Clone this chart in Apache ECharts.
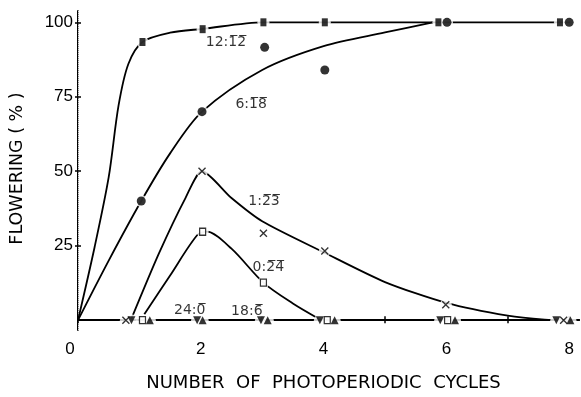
<!DOCTYPE html>
<html>
<head>
<meta charset="utf-8">
<script src="https://cdn.jsdelivr.net/npm/echarts@6/dist/echarts.min.js"></script>
<style>
html,body{margin:0;padding:0;background:#fff;}
#chart{width:581px;height:397px;}
</style>
</head>
<body>
<div id="chart"></div>
<script>
// ---- data (x = photoperiodic cycles, y = % flowering) ----
const xTickValues = [0, 1, 2, 3, 4, 5, 6, 7, 8];
const xLabelValues = [0, 2, 4, 6, 8];
const yTickValues = [25, 50, 75, 100];

// plotted markers
const sq1212X = [1.05, 2.03, 3.02, 4.02, 5.87, 7.85];
const sq1212Y = [93.4, 97.7, 100, 100, 100, 100];
const dot618X = [1.03, 2.02, 3.04, 4.02, 6.01, 8.0];
const dot618Y = [40, 70, 91.6, 84, 100, 100];
const x123X = [0.78, 2.02, 3.02, 4.02, 5.99, 7.91];
const x123Y = [0, 50, 29.2, 23.2, 5.2, 0];
const sq024X = [1.05, 2.03, 3.02, 4.06, 6.02];
const sq024Y = [0, 29.7, 12.6, 0, 0];
const down240X = [0.87, 1.94, 2.98, 3.94, 5.9, 7.79];
const down240Y = [0, 0, 0, 0, 0, 0];
const up186X = [1.17, 2.03, 3.09, 4.18, 6.14, 8.02];
const up186Y = [0, 0, 0, 0, 0, 0];

// hand-drawn curves
const curve1212X = [0, 0.27, 0.5, 0.66, 0.82, 1.05, 1.5, 2.03, 3.02, 4.02, 8.02];
const curve1212Y = [0, 24.5, 48, 72, 86, 93.4, 96.5, 97.8, 100, 100, 100];
const curve618X = [0, 0.5, 1.03, 1.5, 2.02, 3.0, 4.0, 5.0, 5.78];
const curve618Y = [0, 20, 40, 56, 70, 84, 92, 96.6, 100];
const curve123X = [0.86, 1.32, 1.75, 2.02, 2.5, 3.0, 4.0, 5.0, 6.0, 7.0, 7.6, 8.0];
const curve123Y = [0, 22.5, 41, 50, 41, 33.2, 22.8, 12.8, 5.8, 1.5, 0.2, 0];
const curve024X = [1.08, 1.5, 1.94, 2.1, 2.5, 3.02, 3.5, 3.92];
const curve024Y = [2, 15, 28.5, 29.7, 24, 12.6, 5.6, 0.5];
const baselineX = [0, 8.02];
const baselineY = [0, 0];

// curve labels
const labelText = ['12:1\u03052\u0305', '6:1\u03058\u0305', '1:2\u03053\u0305', '0:2\u03054\u0305', '24:0\u0305', '18:6\u0305'];
const labelX = [2.41, 2.82, 3.03, 3.1, 1.82, 2.75];
const labelY = [93.2, 72.6, 40, 17.8, 3.2, 2.9];

function pts(xs, ys) { return xs.map((x, i) => [x, ys[i]]); }

const allMarkers = [].concat(
  pts(sq1212X, sq1212Y), pts(dot618X, dot618Y), pts(x123X, x123Y),
  pts(sq024X, sq024Y), pts(down240X, down240Y), pts(up186X, up186Y));

const FONT = 'Liberation Sans';
const lineStyle = { color: '#000', width: 1.8 };

function curve(xs, ys, s) {
  return {
    type: 'line', data: pts(xs, ys), smooth: s,
    showSymbol: false, symbol: 'none', lineStyle: lineStyle, z: 2, silent: true
  };
}
function markers(xs, ys, symbol, size, itemStyle, rotate) {
  return {
    type: 'scatter', data: pts(xs, ys), symbol: symbol, symbolSize: size,
    symbolRotate: rotate || 0, itemStyle: itemStyle, z: 4, silent: true
  };
}

const chart = echarts.init(document.getElementById('chart'), null, { renderer: 'canvas' });
chart.setOption({
  animation: false,
  backgroundColor: '#fff',
  grid: { left: 75, right: 2, top: 11, bottom: 63 },
  xAxis: [{
    type: 'value', min: 0, max: 8.16, position: 'bottom',
    axisLine: { show: true, lineStyle: { color: '#000', width: 2 } },
    axisTick: { show: true, inside: true, length: 4, customValues: xTickValues, lineStyle: { color: '#000', width: 1.5 } },
    axisLabel: {
      customValues: xLabelValues, color: '#000', fontSize: 17, fontFamily: FONT, margin: 11,
      formatter: v => (v === 0 ? '{z|0}' : String(v)),
      rich: { z: { fontSize: 17, fontFamily: FONT, color: '#000', padding: [0, 16, 0, 0] } }
    },
    splitLine: { show: false },
    name: 'NUMBER  OF  PHOTOPERIODIC  CYCLES', nameLocation: 'middle', nameGap: 44,
    nameTextStyle: { fontFamily: 'DejaVu Sans', fontSize: 18, color: '#000', padding: [0, 10, 0, 0] }
  }, {
    type: 'value', min: 0, max: 8.16, position: 'top',
    axisLine: { show: true, lineStyle: { color: '#000', width: 2 } },
    axisTick: { show: true, inside: true, length: 3, customValues: xTickValues, lineStyle: { color: '#000', width: 1.5 } },
    axisLabel: { show: false }, splitLine: { show: false }
  }],
  yAxis: [{
    type: 'value', min: -3.3, max: 103.8, position: 'left',
    axisLine: { show: true, lineStyle: { color: '#000', width: 2 } },
    axisTick: { show: true, inside: false, length: 3, customValues: yTickValues, lineStyle: { color: '#000', width: 1.5 } },
    axisLabel: { customValues: yTickValues, color: '#000', fontSize: 17, fontFamily: FONT, margin: 5 },
    splitLine: { show: false },
    name: 'FLOWERING ( % )', nameLocation: 'middle', nameGap: 52, nameRotate: 90,
    nameTextStyle: { fontFamily: 'DejaVu Sans', fontSize: 17.5, color: '#000', padding: [0, 0, 0, 4] }
  }, {
    type: 'value', min: -3.3, max: 103.8, position: 'right',
    axisLine: { show: true, lineStyle: { color: '#e0e0e0', width: 1, type: 'dotted' } },
    axisTick: { show: true, inside: false, length: 3, customValues: yTickValues, lineStyle: { color: '#000', width: 1.5 } },
    axisLabel: { show: false }, splitLine: { show: false }
  }],
  series: [
    { type: 'line', data: pts(baselineX, baselineY), showSymbol: false, symbol: 'none', lineStyle: lineStyle, z: 2, silent: true },
    curve(curve1212X, curve1212Y, 0.3),
    curve(curve618X, curve618Y, 0.3),
    curve(curve123X, curve123Y, 0.25),
    curve(curve024X, curve024Y, 0.3),
    { type: 'scatter', data: allMarkers, symbol: 'circle', symbolSize: 12, itemStyle: { color: '#fff' }, z: 3, silent: true },
    markers(sq1212X, sq1212Y, 'rect', [6, 8], { color: '#000' }),
    markers(dot618X, dot618Y, 'circle', 9, { color: '#000' }),
    markers(x123X, x123Y, 'path://M0,1.2L1.2,0L10,8.8L8.8,10Z M8.8,0L10,1.2L1.2,10L0,8.8Z', 8, { color: '#000' }),
    markers(sq024X, sq024Y, 'rect', [6, 7], { color: '#fff', borderColor: '#000', borderWidth: 1.3 }),
    markers(down240X, down240Y, 'triangle', 8, { color: '#000' }, 180),
    markers(up186X, up186Y, 'triangle', 8, { color: '#000' }),
    {
      type: 'scatter', data: labelX.map((x, i) => [x, labelY[i], labelText[i]]),
      symbolSize: 0, z: 5, silent: true,
      label: {
        show: true, position: 'inside', formatter: p => p.data[2],
        fontFamily: 'DejaVu Sans', fontSize: 14, color: '#000'
      }
    }
  ]
});
</script>
</body>
</html>
